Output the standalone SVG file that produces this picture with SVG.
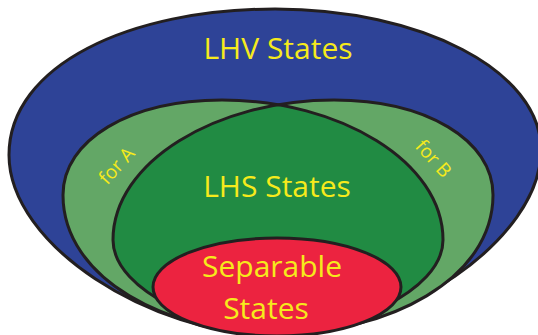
<svg xmlns="http://www.w3.org/2000/svg" width="538" height="335" viewBox="0 0 538 335">
<style>
.o{stroke:#231f20;stroke-width:3;stroke-linejoin:round}
.t{font-family:"Open Sans","Noto Sans",sans-serif;fill:#f6ea1c;text-anchor:middle}
.big{font-size:30px}
.small{font-size:19px}
</style>
<defs>
<path id="pA" d="M222,100 C340,100 443,162 443,240 C443,292 345,333 273,333 C170,333 63,280 63,195 C63,140 130,100 222,100 Z"/>
<path id="pB" d="M334,100 C216,100 113,162 113,240 C113,292 211,333 283,333 C386,333 493,280 493,195 C493,140 426,100 334,100 Z"/>
<clipPath id="clipA"><use href="#pA"/></clipPath>
</defs>
<rect width="538" height="335" fill="#ffffff"/>
<g id="lhv">
<path class="o" fill="#2e4397" d="M275,9 C420,9 541,70 541,150 C541,240 400,335 275,335 C150,335 9,245 9,155 C9,65 130,9 275,9 Z"/>
<text class="t big" x="278" y="59">LHV States</text>
</g>
<g id="forA">
<use href="#pA" fill="#63a766"/>
</g>
<g id="forB">
<use href="#pB" fill="#63a766"/>
</g>
<g id="lhs">
<use href="#pB" fill="#218b43" clip-path="url(#clipA)"/>
<use href="#pA" class="o" fill="none"/>
<use href="#pB" class="o" fill="none"/>
<text class="t big" x="277" y="197">LHS States</text>
</g>
<g id="labels">
<text class="t small" transform="translate(117,166) rotate(-48)" x="0" y="6">for A</text>
<text class="t small" transform="translate(433,159) rotate(48)" x="0" y="6">for B</text>
</g>
<g id="separable">
<ellipse class="o" fill="#ec2340" cx="277" cy="287" rx="124" ry="49"/>
<text class="t big" x="272" y="277">Separable</text>
<text class="t big" x="266" y="319">States</text>
</g>
</svg>
